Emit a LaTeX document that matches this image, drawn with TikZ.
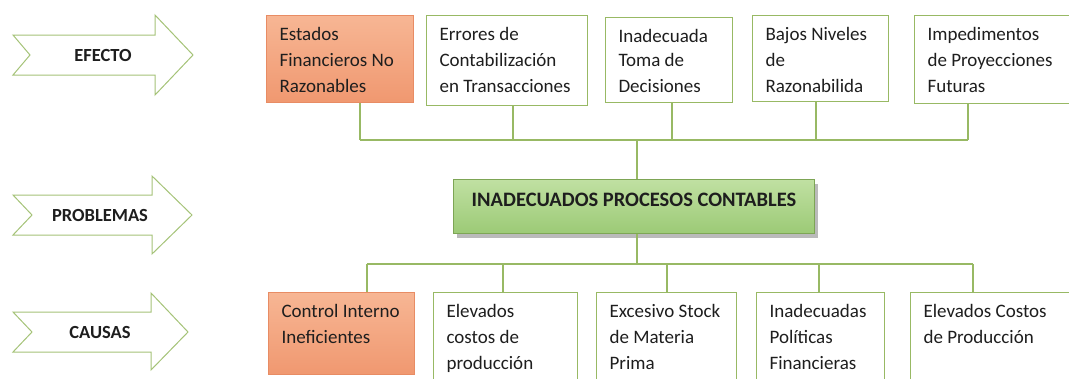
\documentclass[tikz,border=0pt]{standalone}
\usepackage{fontspec}
\setmainfont{Carlito}
\usetikzlibrary{shadows}
\definecolor{lgreen}{RGB}{152,185,100}
\definecolor{agreen}{RGB}{165,195,120}
\definecolor{gborder}{RGB}{125,165,85}
\definecolor{gtop}{RGB}{192,224,162}
\definecolor{gbot}{RGB}{156,202,118}
\definecolor{otop}{RGB}{247,182,148}
\definecolor{obot}{RGB}{240,152,112}
\definecolor{oborder}{RGB}{232,140,100}
\definecolor{ink}{RGB}{30,30,30}
\newcommand{\bx}[3]{\parbox[c][#2][t]{#1}{\fontsize{19}{26}\selectfont\raggedright\leftskip=13pt\rule{0pt}{25pt}#3}}
\tikzset{
  box/.style={draw=lgreen, line width=1.1pt, fill=white, inner sep=0pt, anchor=north west, text=ink},
  obox/.style={box, draw=oborder, top color=otop, bottom color=obot},
  gbox/.style={draw=gborder, line width=1pt, top color=gtop, bottom color=gbot, inner sep=0pt, anchor=north west, text=ink,
     drop shadow={shadow xshift=3pt, shadow yshift=-4pt, opacity=0.45, fill=black!60}},
  conn/.style={draw=lgreen, line width=1.2pt},
  arr/.style={draw=agreen, line width=1pt, fill=white},
  lab/.style={font=\fontsize{18.5}{20}\selectfont\bfseries, text=ink, inner sep=0pt}
}
\begin{document}
\begin{tikzpicture}[x=1pt,y=-1pt]
\useasboundingbox (0,0) rectangle (1069,378);
\fill[white] (0,0) rectangle (1069,378);
\clip (0,0) rectangle (1069,378);

% left arrows
\draw[arr] (13,35) -- (30,55) -- (13,75) -- (155,75) -- (155,95) -- (193,55) -- (155,15) -- (155,35) -- cycle;
\node[lab] (efecto) at (103,55) {EFECTO};
\draw[arr] (13,195) -- (32,215) -- (13,235) -- (152,235) -- (152,254) -- (192,215) -- (152,176) -- (152,195) -- cycle;
\node[lab] (problemas) at (100,215) {PROBLEMAS};
\draw[arr] (13,312) -- (32,332) -- (13,352) -- (151,352) -- (151,370) -- (188,332) -- (151,293) -- (151,312) -- cycle;
\node[lab] (causas) at (100,332) {CAUSAS};

% top boxes (effects)
\node[obox] (T1) at (266,15) {\bx{147pt}{87pt}{Estados\\Financieros No\\Razonables}};
\node[box] (T2) at (426,15) {\bx{161pt}{90pt}{Errores de\\Contabilización\\en Transacciones}};
\node[box] (T3) at (605,17) {\bx{127pt}{85pt}{\vspace*{-2pt}Inadecuada\\Toma de\\Decisiones}};
\node[box] (T4) at (752,15) {\bx{136pt}{86pt}{Bajos Niveles\\de\\Razonabilida}};
\node[box] (T5) at (914,15) {\bx{170pt}{88pt}{Impedimentos\\de Proyecciones\\Futuras}};

% central problem
\node[gbox] (G) at (453,179) {\parbox[c][54pt][t]{361pt}{\centering\fontsize{20.5}{24}\selectfont\bfseries\rule{0pt}{27pt}INADECUADOS PROCESOS CONTABLES}};

% bottom boxes (causes)
\node[obox] (B1) at (268,292) {\bx{146pt}{82pt}{Control Interno\\Ineficientes}};
\node[box] (B2) at (433,292) {\bx{144pt}{100pt}{Elevados\\costos de\\producción}};
\node[box] (B3) at (596,292) {\bx{140pt}{100pt}{Excesivo Stock\\de Materia\\Prima}};
\node[box] (B4) at (756,292) {\bx{128pt}{100pt}{Inadecuadas\\Políticas\\Financieras}};
\node[box] (B5) at (910,292) {\bx{170pt}{100pt}{Elevados Costos\\de Producción}};

% top connectors
\coordinate (c1) at (360,140);
\coordinate (c2) at (513,140);
\coordinate (c3) at (672,140);
\coordinate (c4) at (816,140);
\coordinate (c5) at (968,140);
\coordinate (jt) at (637,140);
\draw[conn] (c1) -- (c5);
\draw[conn] (T1.south -| c1) -- (c1);
\draw[conn] (T2.south -| c2) -- (c2);
\draw[conn] (T3.south -| c3) -- (c3);
\draw[conn] (T4.south -| c4) -- (c4);
\draw[conn] (T5.south -| c5) -- (c5);
\draw[conn] (jt) -- (G.north -| jt);

% bottom connectors
\coordinate (d1) at (367,264);
\coordinate (d2) at (503,264);
\coordinate (d3) at (667,264);
\coordinate (d4) at (819,264);
\coordinate (d5) at (973,264);
\coordinate (jb) at (637,264);
\draw[conn] (d1) -- (d5);
\draw[conn] (G.south -| jb) -- (jb);
\draw[conn] (d1) -- (B1.north -| d1);
\draw[conn] (d2) -- (B2.north -| d2);
\draw[conn] (d3) -- (B3.north -| d3);
\draw[conn] (d4) -- (B4.north -| d4);
\draw[conn] (d5) -- (B5.north -| d5);
\end{tikzpicture}
\end{document}
